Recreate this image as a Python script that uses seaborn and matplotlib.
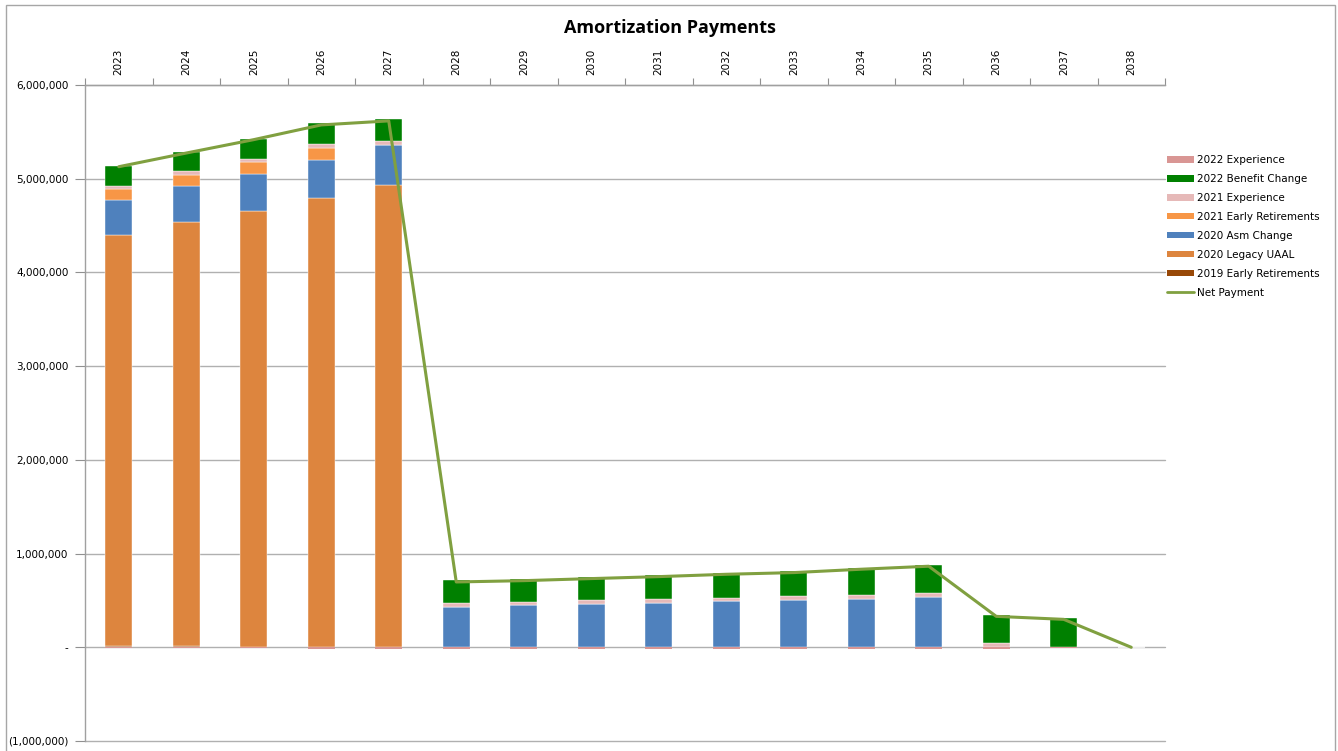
import numpy as np
import pandas as pd
import matplotlib
matplotlib.use("Agg")
import matplotlib.pyplot as plt
import seaborn as sns
from matplotlib.ticker import FuncFormatter, FixedLocator, NullFormatter
from matplotlib.patches import Rectangle
from matplotlib.lines import Line2D

years = [str(y) for y in range(2023, 2039)]

# Amortization layers (dollars), stacked bottom-up in this order
early_ret_2019 = [15000, 15000, 0, 0, 0, 0, 0, 0, 0, 0, 0, 0, 0, 0, 0, 0]
legacy_uaal_2020 = [4387000, 4522000, 4655000, 4790000, 4935000, 0, 0, 0, 0, 0, 0, 0, 0, 0, 0, 0]
asm_change_2020 = [373000, 388000, 398000, 412000, 428000, 427000, 452000, 462000,
                   473000, 491000, 502000, 516000, 537000, 0, 0, 0]
early_ret_2021 = [118000, 114000, 125000, 129000, 0, 0, 0, 0, 0, 0, 0, 0, 0, 0, 0, 0]
experience_2021 = [32000, 43000, 28000, 36000, 36000, 43000, 32000, 40000,
                   39000, 40000, 50000, 47000, 47000, 45000, 0, 0]
benefit_change_2022 = [213000, 202000, 221000, 227000, 238000, 245000, 245000, 249000,
                       260000, 266000, 263000, 288000, 299000, 300000, 310000, 0]
experience_2022 = [-10000, -10000, -10000, -20000, -20000, -18000, -18000, -18000,
                   -18000, -18000, -18000, -18000, -18000, -15000, -12000, 0]

stack_order = [
    ("2019 Early Retirements", early_ret_2019, "#984807"),
    ("2020 Legacy UAAL", legacy_uaal_2020, "#DD853E"),
    ("2020 Asm Change", asm_change_2020, "#4F81BD"),
    ("2021 Early Retirements", early_ret_2021, "#F79646"),
    ("2021 Experience", experience_2021, "#E6B9B8"),
    ("2022 Benefit Change", benefit_change_2022, "#008000"),
]
neg_layer = ("2022 Experience", experience_2022, "#D99694")
line_color = "#80A040"

net_payment = np.sum([np.array(v) for _, v, _ in stack_order], axis=0) + np.array(experience_2022)

sns.set_theme(style="white")
plt.rcParams["font.family"] = ["DejaVu Sans"]
plt.rcParams["text.color"] = "black"
plt.rcParams["xtick.labelcolor"] = "black"
plt.rcParams["ytick.labelcolor"] = "black"

fig = plt.figure(figsize=(13.38, 7.51), dpi=100)
ax = fig.add_axes([85 / 1338, 1 - 741 / 751, 1080 / 1338, (741 - 85) / 751])

bottom = np.zeros(len(years))
for name, vals, color in stack_order:
    vals = np.array(vals, dtype=float)
    sns.barplot(x=years, y=vals, bottom=bottom, color=color, width=0.4, saturation=1,
                edgecolor="#FFFFFF", linewidth=0.3, ax=ax, zorder=3)
    bottom = bottom + vals

name, vals, color = neg_layer
sns.barplot(x=years, y=np.array(vals, dtype=float), color=color, width=0.4, saturation=1,
            linewidth=0, ax=ax, zorder=3)

line_df = pd.DataFrame({"year": years, "net": net_payment})
sns.lineplot(data=line_df, x="year", y="net", color=line_color, linewidth=2.2,
             sort=False, ax=ax, zorder=4)

ax.set_xlim(-0.5, len(years) - 0.5)
ax.set_ylim(-1_000_000, 6_000_000)
ax.set_xlabel("")
ax.set_ylabel("")

# Y axis: gridlines every million, accounting-style labels
ax.yaxis.set_major_locator(FixedLocator(np.arange(-1_000_000, 6_000_001, 1_000_000)))


def acct(v, _pos):
    if abs(v) < 0.5:
        return "-"
    if v < 0:
        return f"({abs(v):,.0f})"
    return f"{v:,.0f}"


ax.yaxis.set_major_formatter(FuncFormatter(acct))
ax.grid(axis="y", color="#B0B0B0", linewidth=1.0, zorder=0)
ax.grid(axis="x", visible=False)
for gl in ax.get_ygridlines():
    gl.set_clip_on(False)
ax.tick_params(axis="y", direction="out", length=7, width=0.8, color="#909090",
               labelsize=7.5, pad=5, left=True)

# Category labels sit along the top edge, rotated
ax.xaxis.tick_top()
ax.set_xticks(range(len(years)))
ax.set_xticklabels(years, rotation=90, fontsize=7.5)
ax.tick_params(axis="x", which="major", length=0, pad=7, top=True, bottom=False)
ax.xaxis.set_minor_locator(FixedLocator(np.arange(-0.5, len(years), 1.0)))
ax.xaxis.set_minor_formatter(NullFormatter())
ax.tick_params(axis="x", which="minor", length=5, width=0.8, color="#909090",
               top=True, bottom=False, direction="out")

for side in ["right", "bottom"]:
    ax.spines[side].set_visible(False)
for side in ["left", "top"]:
    ax.spines[side].set_visible(True)
    ax.spines[side].set_color("#A0A0A0")
    ax.spines[side].set_linewidth(1.0)

fig.text(670 / 1338, 1 - 28 / 751, "Amortization Payments", fontsize=13, fontweight="bold",
         fontfamily="Open Sans", ha="center", va="center", color="black")

# Legend
legend_items = [neg_layer] + list(reversed(stack_order))
handles = [Rectangle((0, 0), 1, 1, facecolor=c, edgecolor="none") for _, _, c in legend_items]
labels = [n for n, _, _ in legend_items]
handles.append(Line2D([0], [0], color=line_color, linewidth=2))
labels.append("Net Payment")
fig.legend(handles, labels, loc="upper left", bbox_to_anchor=(1163 / 1338, 1 - 151 / 751),
           frameon=False, fontsize=7.5, handlelength=2.6, handleheight=0.55,
           labelspacing=0.86, handletextpad=0.3, borderaxespad=0, labelcolor="black")

# Chart frame
fig.patches.append(Rectangle((6 / 1338, -0.01), (1335 - 6) / 1338, 1.01 - 5 / 751,
                             transform=fig.transFigure, fill=False,
                             edgecolor="#A6A6A6", linewidth=1.0))

fig.savefig("out.png", dpi=100, facecolor="white")
